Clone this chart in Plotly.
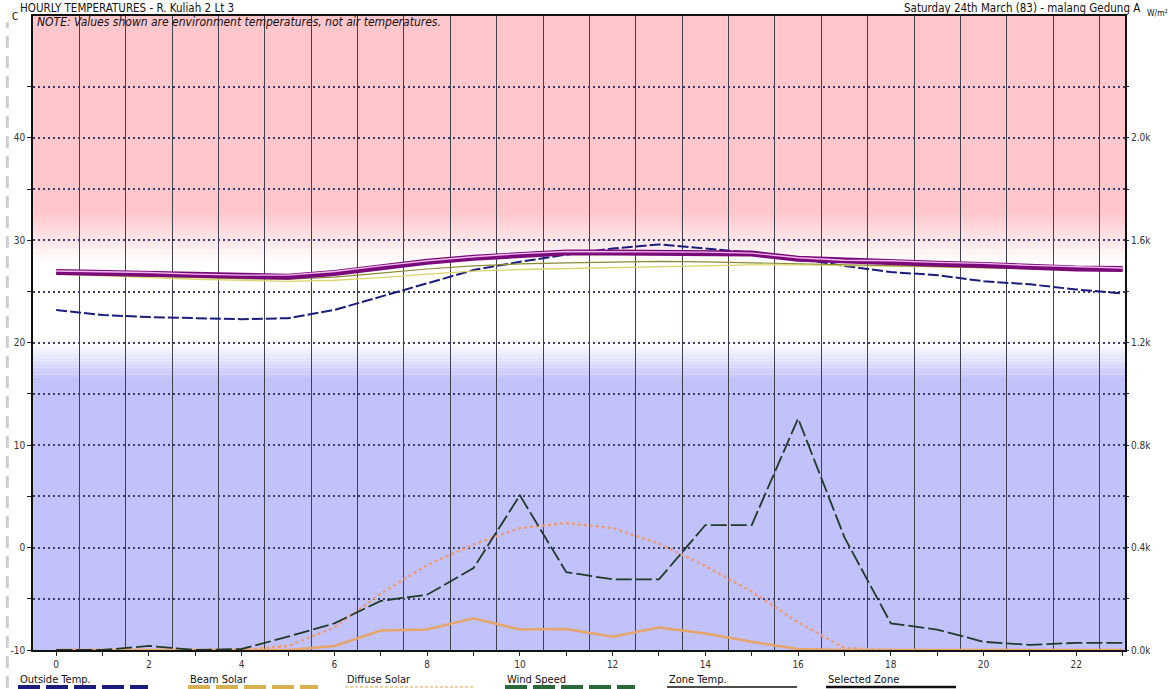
import plotly.graph_objects as go

# ---- data -------------------------------------------------------------
hours = list(range(24))

outside_temp = [23.2, 22.7, 22.5, 22.4, 22.3, 22.4, 23.2, 24.5, 25.8, 27.1, 27.9, 28.6,
                29.2, 29.6, 29.2, 28.8, 28.2, 27.5, 26.9, 26.6, 26.0, 25.7, 25.2, 24.8]

selected_zone = [26.9, 26.8, 26.7, 26.55, 26.45, 26.45, 26.8, 27.4, 27.9, 28.3, 28.6, 28.8,
                 28.8, 28.8, 28.8, 28.7, 28.2, 28.0, 27.9, 27.7, 27.6, 27.4, 27.25, 27.2]

zone_b = [27.0, 26.95, 26.85, 26.7, 26.6, 26.6, 26.95, 27.5, 28.0, 28.4, 28.7, 28.9,
          28.9, 28.9, 28.85, 28.75, 28.3, 28.05, 28.0, 27.85, 27.75, 27.55, 27.4, 27.3]

zone_c = [26.7, 26.5, 26.35, 26.2, 26.1, 26.0, 26.1, 26.35, 26.7, 27.0, 27.15, 27.25,
          27.3, 27.4, 27.55, 27.6, 27.6, 27.55, 27.5, 27.4, 27.3, 27.2, 27.1, 27.05]

zone_d = [26.8, 26.6, 26.5, 26.35, 26.25, 26.2, 26.4, 26.8, 27.2, 27.5, 27.7, 27.8,
          27.9, 27.95, 27.9, 27.8, 27.7, 27.6, 27.5, 27.4, 27.3, 27.2, 27.15, 27.1]

beam_solar = [0, 0, 0, 0, 0, 0, 16, 76, 80, 124, 80, 82,
              52, 88, 64, 32, 4, 0, 0, 0, 0, 0, 0, 0]

diffuse_solar = [0, 0, 0, 0, 0, 16, 88, 220, 332, 412, 476, 496,
                 476, 416, 328, 228, 108, 8, 0, 0, 0, 0, 0, 0]

wind_speed = [0, 0, 0.4, 0, 0.1, 1.3, 2.6, 4.8, 5.4, 8.0, 15.1, 7.6,
              6.9, 6.9, 12.2, 12.2, 22.6, 11.0, 2.6, 2.0, 0.8, 0.5, 0.7, 0.7]

temp_ticks = [-10, -5, 0, 5, 10, 15, 20, 25, 30, 35, 40, 45]
solar_ticks = [0, 200, 400, 600, 800, 1000, 1200, 1400, 1600, 1800, 2000, 2200]
hour_labels = [str(h) if h % 2 == 0 else "" for h in hours]

title_left = "HOURLY TEMPERATURES - R. Kuliah 2 Lt 3"
title_right = "Saturday 24th March (83) - malang Gedung A"
note_text = "NOTE: Values shown are environment temperatures, not air temperatures."
legend_names = ["Outside Temp.", "Beam Solar", "Diffuse Solar", "Wind Speed",
                "Zone Temp.", "Selected Zone"]

# ---- styling ----------------------------------------------------------
FONT = ("DejaVu Sans Condensed, Liberation Sans Narrow, Arial Narrow, "
        "Liberation Sans, Arial, sans-serif")
T_MIN, T_MAX = -10, 51.9
SOLAR_PER_DEG = 40.0
C_OUT = "#1c1c7c"
C_BEAM = "#e6a66a"
C_DIFF = "#eb9c7a"
C_WIND = "#1f3a2a"
C_SEL = "#7a0a7a"

fig = go.Figure()

fig.add_trace(go.Scatter(x=hours, y=diffuse_solar, yaxis="y2", mode="lines",
                         line=dict(color=C_DIFF, width=2.4, dash="3px,3px")))
fig.add_trace(go.Scatter(x=hours, y=beam_solar, yaxis="y2", mode="lines",
                         line=dict(color=C_BEAM, width=2.5)))
fig.add_trace(go.Scatter(x=hours, y=wind_speed, yaxis="y3", mode="lines",
                         line=dict(color=C_WIND, width=1.8, dash="16px,4px")))
fig.add_trace(go.Scatter(x=hours, y=outside_temp, mode="lines",
                         line=dict(color=C_OUT, width=2, dash="11px,3px")))
fig.add_trace(go.Scatter(x=hours, y=zone_c, mode="lines",
                         line=dict(color="#dcd46a", width=1.3)))
fig.add_trace(go.Scatter(x=hours, y=zone_d, mode="lines",
                         line=dict(color="#8c8a32", width=1.2)))
fig.add_trace(go.Scatter(x=hours, y=selected_zone, mode="lines",
                         line=dict(color=C_SEL, width=6)))
fig.add_trace(go.Scatter(x=hours, y=zone_b, mode="lines",
                         line=dict(color="#f2b8ee", width=1.4)))

# ---- comfort band background -----------------------------------------
shapes = []
PINK = (255, 198, 204)
LAV = (194, 194, 250)


def band(y0, y1, rgb, a):
    r = int(round(255 + (rgb[0] - 255) * a))
    g = int(round(255 + (rgb[1] - 255) * a))
    b = int(round(255 + (rgb[2] - 255) * a))
    return dict(type="rect", xref="paper", yref="y", x0=0, x1=1, y0=y0, y1=y1,
                fillcolor=f"rgb({r},{g},{b})", line=dict(width=0), layer="below")


shapes.append(band(32.5, T_MAX, PINK, 1.0))
steps = 24
lo, hi = 27.8, 32.5
for i in range(steps):
    y0 = lo + (hi - lo) * i / steps
    y1 = lo + (hi - lo) * (i + 1) / steps
    shapes.append(band(y0, y1 + 0.02, PINK, (i + 0.5) / steps))

shapes.append(band(T_MIN, 16.6, LAV, 1.0))
lo, hi = 16.6, 20.0
for i in range(steps):
    y0 = lo + (hi - lo) * i / steps
    y1 = lo + (hi - lo) * (i + 1) / steps
    shapes.append(band(y0 - 0.02, y1, LAV, 1 - (i + 0.5) / steps))

# faint dashed strip along the left edge of the page
shapes.append(dict(type="line", xref="paper", yref="paper",
                   x0=-0.0235, x1=-0.0235, y0=-0.06, y1=0.99,
                   line=dict(color="#cfcfcf", width=3, dash="12px,8px")))

# ---- legend drawn underneath the axis --------------------------------
leg_x = [18, 188, 345, 505, 667, 826]
leg_w = 130
leg_styles = [
    dict(color=C_OUT, width=4, dash="22px,6px"),
    dict(color="#d8b050", width=4, dash="22px,6px"),
    dict(color="#eec080", width=1.5, dash="3px,2px"),
    dict(color="#2a6a3a", width=4, dash="22px,6px"),
    dict(color="#111111", width=1.5),
    dict(color="#111111", width=2.5),
]


def px_to_paper_x(px):
    return (px - 33) / 1092.0


def py_to_paper_y(py):
    return (650 - py) / 634.0


annotations = []
for name, x0, sty in zip(legend_names, leg_x, leg_styles):
    annotations.append(dict(text=name, xref="paper", yref="paper",
                            x=px_to_paper_x(x0), y=py_to_paper_y(679),
                            xanchor="left", yanchor="middle", showarrow=False,
                            font=dict(family=FONT, size=11, color="#111")))
    shapes.append(dict(type="line", xref="paper", yref="paper",
                       x0=px_to_paper_x(x0), x1=px_to_paper_x(x0 + leg_w),
                       y0=py_to_paper_y(687), y1=py_to_paper_y(687), line=sty))

annotations += [
    dict(text=title_left, xref="paper", yref="paper", x=px_to_paper_x(18),
         y=py_to_paper_y(8), xanchor="left", yanchor="middle", showarrow=False,
         font=dict(family=FONT, size=11.5, color="#111")),
    dict(text="C", xref="paper", yref="paper", x=px_to_paper_x(10),
         y=py_to_paper_y(16), xanchor="left", yanchor="middle", showarrow=False,
         font=dict(family=FONT, size=10, color="#111")),
    dict(text=title_right, xref="paper", yref="paper", x=px_to_paper_x(1142),
         y=py_to_paper_y(8), xanchor="right", yanchor="middle", showarrow=False,
         font=dict(family=FONT, size=11.5, color="#111")),
    dict(text="W/m²", xref="paper", yref="paper", x=px_to_paper_x(1145),
         y=py_to_paper_y(13), xanchor="left", yanchor="middle", showarrow=False,
         font=dict(family=FONT, size=8.5, color="#111")),
    dict(text="<i>" + note_text + "</i>", xref="paper", yref="paper",
         x=px_to_paper_x(35), y=py_to_paper_y(22), xanchor="left", yanchor="middle",
         showarrow=False, font=dict(family=FONT, size=12, color="#111")),
]

tick_font = dict(family=FONT, size=10, color="#333")

fig.update_layout(
    width=1170, height=689,
    margin=dict(l=33, r=45, t=16, b=39, pad=0),
    paper_bgcolor="white", plot_bgcolor="white",
    showlegend=False,
    shapes=shapes,
    annotations=annotations,
    xaxis=dict(range=[-0.5, 23.05], tickvals=hours, ticktext=hour_labels,
               ticks="outside", ticklen=4, tickcolor="#222", tickfont=tick_font,
               showgrid=False, zeroline=False,
               showline=True, linecolor="#111", linewidth=1.5, mirror=True,
               minor=dict(tick0=0.5, dtick=1, showgrid=True, gridcolor="#40404e",
                          gridwidth=1, ticks="")),
    yaxis=dict(range=[T_MIN, T_MAX], tickvals=temp_ticks,
               ticktext=[str(t) if t % 10 == 0 else "" for t in temp_ticks],
               ticks="outside", ticklen=4, tickcolor="#222", tickfont=tick_font,
               showgrid=True, gridcolor="#3c3c6c", gridwidth=1.6, griddash="2px,3px",
               zeroline=False, showline=True, linecolor="#111", linewidth=1.5,
               mirror=True),
    yaxis2=dict(range=[0, (T_MAX - T_MIN) * SOLAR_PER_DEG], overlaying="y",
                side="right", tickvals=solar_ticks,
                ticktext=[f"{v/1000:.1f}k" if v % 400 == 0 else "" for v in solar_ticks],
                ticks="outside", ticklen=3, tickcolor="#222", tickfont=tick_font,
                showgrid=False, zeroline=False, showline=False),
    yaxis3=dict(range=[0, T_MAX - T_MIN], overlaying="y", visible=False),
)

fig.write_html("out.html")
